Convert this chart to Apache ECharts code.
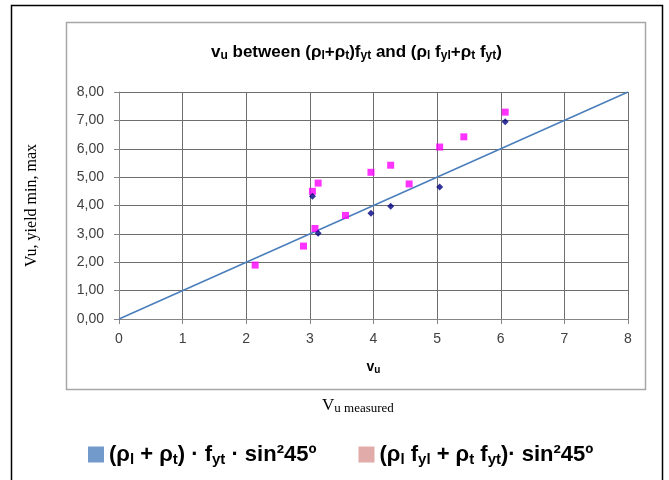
<!DOCTYPE html>
<html>
<head>
<meta charset="utf-8">
<script src="https://cdn.jsdelivr.net/npm/echarts@6/dist/echarts.min.js"></script>
<style>
  html, body { margin: 0; padding: 0; background: #ffffff; }
  #chart { width: 669px; height: 480px; }
</style>
</head>
<body>
<div id="chart"></div>
<script>
// Measured shear strength vs. predicted bounds
const xTicks = [0, 1, 2, 3, 4, 5, 6, 7, 8];
const yTicks = ['0,00', '1,00', '2,00', '3,00', '4,00', '5,00', '6,00', '7,00', '8,00'];

// (ρl + ρt)·fyt·sin²45°
const lowerX = [3.04, 3.13, 3.96, 4.27, 5.04, 6.07];
const lowerY = [4.33, 3.02, 3.73, 3.97, 4.65, 6.95];

// (ρl fyl + ρt fyt)·sin²45°
const upperX = [2.14, 2.90, 3.08, 3.04, 3.13, 3.56, 3.96, 4.27, 4.56, 5.04, 5.42, 6.07];
const upperY = [1.90, 2.57, 3.19, 4.50, 4.79, 3.65, 5.17, 5.42, 4.76, 6.06, 6.42, 7.29];

// Line of equality
const refLine = [[0, 0], [8, 8]];

const nameLower = '(ρl + ρt) · fyt · sin²45º';
const nameUpper = '(ρl fyl + ρt fyt)· sin²45º';

const legendRich = {
  '(ρl + ρt) · fyt · sin²45º': '{m|(ρ}{s|l}{m| + ρ}{s|t}{m|) · f}{s|yt}{m| · sin²45º}',
  '(ρl fyl + ρt fyt)· sin²45º': '{m|(ρ}{s|l}{m| f}{s|yl}{m| + ρ}{s|t}{m| f}{s|yt}{m|)· sin²45º}'
};

const zip = (xs, ys) => xs.map((x, i) => [x, ys[i]]);

const chart = echarts.init(document.getElementById('chart'));
chart.setOption({
  backgroundColor: '#ffffff',
  animation: false,
  graphic: [
    { type: 'rect', shape: { x: 11.5, y: 5.5, width: 651, height: 490 },
      style: { fill: 'none', stroke: '#000000', lineWidth: 1.5 }, z: -10 },
    { type: 'rect', shape: { x: 66.5, y: 22.5, width: 579, height: 367 },
      style: { fill: 'none', stroke: '#a6a6a6', lineWidth: 1.5 }, z: -10 },
    { type: 'text', left: 322, top: 397,
      style: {
        text: 'V{s|u measured}',
        font: '17px "Liberation Serif"', fill: '#000000',
        rich: { s: { font: '13px "Liberation Serif"', fill: '#000000', verticalAlign: 'bottom', padding: [6, 0, 0, 0] } }
      }
    }
  ],
  title: {
    text: 'v{s|u} between (ρ{s|l}+ρ{s|t})f{s|yt} and (ρ{s|l} f{s|yl}+ρ{s|t} f{s|yt})',
    left: 206,
    top: 37,
    textStyle: {
      fontFamily: 'Liberation Sans', fontSize: 17, fontWeight: 'bold', color: '#000000',
      rich: { s: { fontFamily: 'Liberation Sans', fontSize: 12, fontWeight: 'bold', color: '#000000', verticalAlign: 'bottom', padding: [8, 0, 0, 0] } }
    }
  },
  legend: {
    bottom: 8,
    left: 83,
    icon: 'rect',
    itemWidth: 16,
    itemHeight: 16,
    itemGap: 42,
    data: [
      { name: nameLower, itemStyle: { color: '#4f81bd' } },
      { name: nameUpper, itemStyle: { color: '#d99694' } }
    ],
    formatter: name => legendRich[name],
    textStyle: {
      rich: {
        m: { fontFamily: 'Liberation Sans', fontSize: 22, fontWeight: 'bold', color: '#000000' },
        s: { fontFamily: 'Liberation Sans', fontSize: 15, fontWeight: 'bold', color: '#000000', verticalAlign: 'bottom', padding: [10, 0, 0, 0] }
      }
    },
    selectedMode: false
  },
  grid: { left: 119, right: 41, top: 92, bottom: 161 },
  xAxis: {
    type: 'value',
    min: 0, max: 8, interval: 1,
    name: 'v{s|u}',
    nameLocation: 'middle',
    nameGap: 40,
    nameTextStyle: {
      fontFamily: 'Liberation Sans', fontSize: 14, fontWeight: 'bold', color: '#000000',
      rich: { s: { fontFamily: 'Liberation Sans', fontSize: 10, fontWeight: 'bold', color: '#000000', verticalAlign: 'bottom', padding: [6, 0, 0, 0] } }
    },
    axisLine: { show: true, lineStyle: { color: '#868686', width: 1 } },
    axisTick: { show: true, length: 5, lineStyle: { color: '#868686' } },
    axisLabel: {
      fontFamily: 'Liberation Sans', fontSize: 14, color: '#404040', margin: 13,
      formatter: v => String(xTicks[Math.round(v)])
    },
    splitLine: { show: true, lineStyle: { color: '#6e6e6e', width: 1 } }
  },
  yAxis: {
    type: 'value',
    min: 0, max: 8, interval: 1,
    name: 'Vu, yield min, max',
    nameLocation: 'middle',
    nameRotate: 90,
    nameGap: 79,
    nameTextStyle: { fontFamily: 'Liberation Serif', fontSize: 16, color: '#000000' },
    axisLine: { show: true, lineStyle: { color: '#868686', width: 1 } },
    axisTick: { show: true, length: 5, lineStyle: { color: '#868686' } },
    axisLabel: {
      fontFamily: 'Liberation Sans', fontSize: 14, color: '#404040', margin: 15,
      formatter: v => yTicks[Math.round(v)]
    },
    splitLine: { show: true, lineStyle: { color: '#6e6e6e', width: 1 } }
  },
  series: [
    {
      name: 'y = x',
      type: 'line',
      data: refLine,
      showSymbol: false,
      lineStyle: { color: '#4a7ebb', width: 1.5 },
      z: 3
    },
    {
      name: nameLower,
      type: 'scatter',
      data: zip(lowerX, lowerY),
      symbol: 'diamond',
      symbolSize: 7,
      itemStyle: { color: '#000080' },
      z: 5
    },
    {
      name: nameUpper,
      type: 'scatter',
      data: zip(upperX, upperY),
      symbol: 'rect',
      symbolSize: 7,
      itemStyle: { color: '#ff00ff' },
      z: 4
    }
  ]
});
</script>
</body>
</html>
